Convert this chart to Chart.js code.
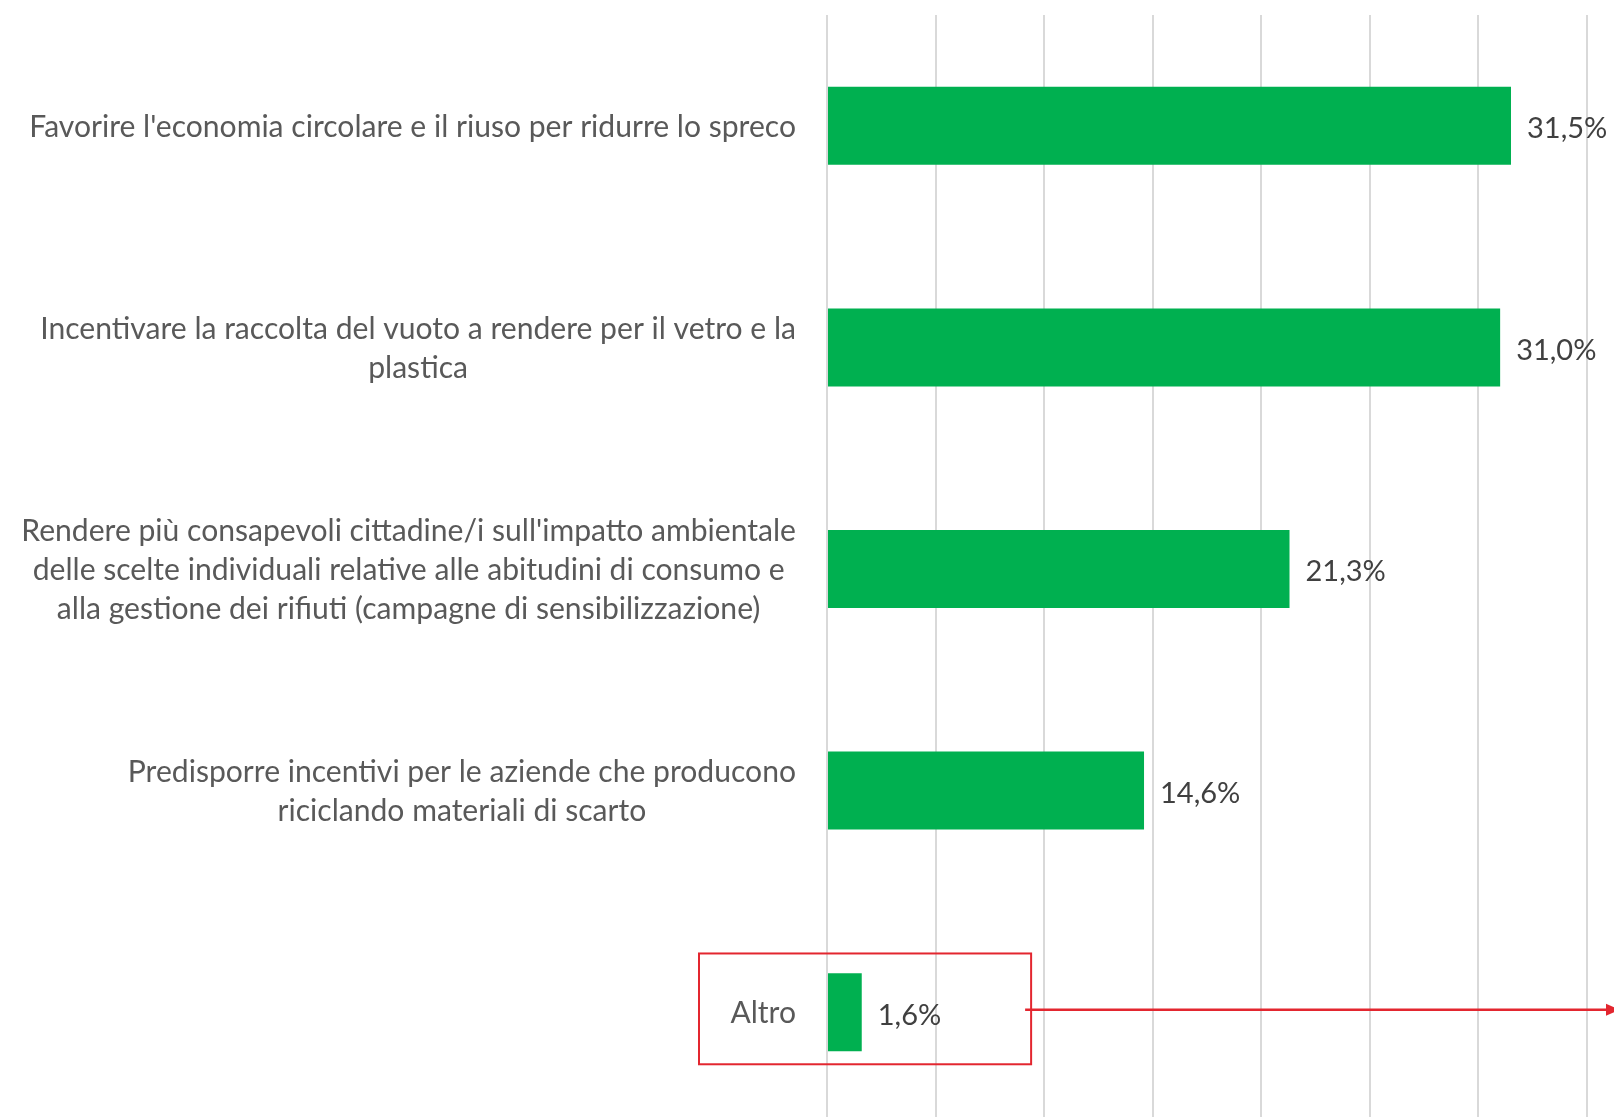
<!DOCTYPE html>
<html>
<head>
<meta charset="utf-8">
<script src="https://cdn.jsdelivr.net/npm/chart.js@4.4.1/dist/chart.umd.min.js"></script>
<style>
  html, body { margin: 0; padding: 0; background: #fff; overflow: hidden; }
  #wrap { width: 1614px; height: 1123px; }
</style>
</head>
<body>
<div id="wrap"><canvas id="azioni"></canvas></div>
<script>
'use strict';

// categories, one array of lines per bar
const categories = [
    ["Favorire l'economia circolare e il riuso per ridurre lo spreco"],
    ["Incentivare la raccolta del vuoto a rendere per il vetro e la", "plastica"],
    ["Rendere più consapevoli cittadine/i sull'impatto ambientale",
     "delle scelte individuali relative alle abitudini di consumo e",
     "alla gestione dei rifiuti (campagne di sensibilizzazione)"],
    ["Predisporre incentivi per le aziende che producono", "riciclando materiali di scarto"],
    ["Altro"]
];
const percentages = [31.5, 31.0, 21.3, 14.6, 1.6];
const axisMax = 35;
const axisStep = 5;
const highlighted = 'Altro';

const GREEN = '#00b050';
const RED = '#e3262f';
const LABEL_FONT = '30.1px Lato';
const VALUE_FONT = '29px Lato';

function percentText(v) {
    return v.toFixed(1).replace('.', ',') + '%';
}

//CATEGORY LABELS, right edge fixed, lines centred inside the block
const categoryLabels = {
    id: 'categoryLabels',
    afterDraw(chart) {
        const ctx = chart.ctx;
        const yScale = chart.scales.y;
        const right = chart.chartArea.left - 31;
        const lineH = 39;
        ctx.save();
        ctx.font = LABEL_FONT;
        ctx.fillStyle = '#595959';
        ctx.textAlign = 'center';
        ctx.textBaseline = 'middle';
        categories.forEach(function (lines, i) {
            const yc = yScale.getPixelForTick(i) + 1.5;
            const widest = Math.max.apply(null, lines.map(l => ctx.measureText(l).width));
            const cx = right - widest / 2;
            const y0 = yc - (lines.length - 1) * lineH / 2;
            lines.forEach(function (l, j) {
                ctx.fillText(l, cx, y0 + j * lineH);
            });
        });
        ctx.restore();
    }
};

//VALUE LABELS AT THE END OF EACH BAR
const valueLabels = {
    id: 'valueLabels',
    afterDatasetsDraw(chart) {
        const ctx = chart.ctx;
        const meta = chart.getDatasetMeta(0);
        ctx.save();
        ctx.font = VALUE_FONT;
        ctx.fillStyle = '#404040';
        ctx.textAlign = 'left';
        ctx.textBaseline = 'middle';
        meta.data.forEach(function (bar, i) {
            ctx.fillText(percentText(percentages[i]), bar.x + 16, bar.y + 3);
        });
        ctx.restore();
    }
};

//RED FRAME ROUND THE "ALTRO" ROW AND ARROW TO THE RIGHT
const highlightBox = {
    id: 'highlightBox',
    afterDraw(chart) {
        const ctx = chart.ctx;
        const xScale = chart.scales.x;
        const yScale = chart.scales.y;
        const idx = categories.findIndex(c => c[0] === highlighted);
        const yc = yScale.getPixelForTick(idx);
        const band = yScale.getPixelForTick(1) - yScale.getPixelForTick(0);
        const left = chart.chartArea.left - 128;
        const right = xScale.getPixelForValue(9.4);
        const top = yc - band * 0.265;
        const bottom = yc + band * 0.235;
        const ay = yc - 2.5;
        const w = chart.width;

        ctx.save();
        ctx.strokeStyle = RED;
        ctx.lineWidth = 2;
        ctx.strokeRect(left, top, right - left, bottom - top);

        ctx.lineWidth = 2.5;
        ctx.beginPath();
        ctx.moveTo(right - 6, ay);
        ctx.lineTo(w - 6, ay);
        ctx.stroke();

        ctx.fillStyle = RED;
        ctx.beginPath();
        ctx.moveTo(w - 8, ay - 6);
        ctx.lineTo(w + 6, ay);
        ctx.lineTo(w - 8, ay + 6);
        ctx.closePath();
        ctx.fill();
        ctx.restore();
    }
};

new Chart(document.getElementById('azioni'), {
    type: 'bar',
    data: {
        labels: categories,
        datasets: [
            {
                data: percentages,
                backgroundColor: GREEN,
                borderWidth: 0,
                categoryPercentage: 1,
                barPercentage: 0.352
            }
        ]
    },
    options: {
        indexAxis: 'y',
        responsive: true,
        maintainAspectRatio: false,
        animation: false,
        layout: { padding: { left: 827, right: 27, top: 15, bottom: 0 } },
        plugins: {
            legend: { display: false },
            tooltip: { enabled: false }
        },
        scales: {
            x: {
                min: 0,
                max: axisMax,
                ticks: { display: false, stepSize: axisStep },
                grid: { color: '#d9d9d9', lineWidth: 2, drawTicks: false },
                border: { display: false }
            },
            y: {
                ticks: { display: false },
                grid: { display: false, drawTicks: false },
                border: { display: false }
            }
        }
    },
    plugins: [categoryLabels, valueLabels, highlightBox]
});
</script>
</body>
</html>
